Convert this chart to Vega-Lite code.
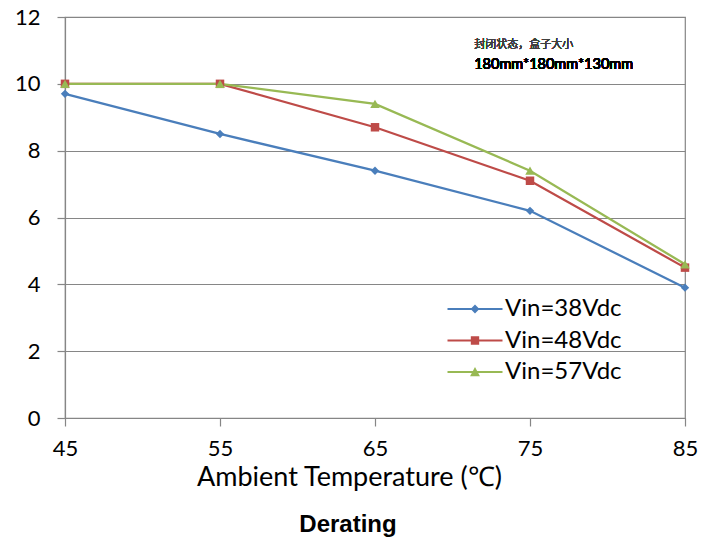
{
  "$schema": "https://vega.github.io/schema/vega-lite/v6.json",
  "width": 620,
  "height": 401,
  "autosize": "none",
  "padding": {"left": 65, "top": 17, "right": 31, "bottom": 126},
  "background": "white",
  "config": {
    "view": {"stroke": "#868686", "strokeWidth": 1.2},
    "font": "Lato"
  },
  "title": {
    "text": "Derating",
    "orient": "bottom",
    "anchor": "middle",
    "dx": -27,
    "offset": 23,
    "font": "Liberation Sans",
    "fontSize": 24,
    "fontWeight": "bold",
    "color": "#000000"
  },
  "data": {
    "values": [
      {"temp": 45, "current": 9.7, "series": "Vin=38Vdc"},
      {"temp": 55, "current": 8.5, "series": "Vin=38Vdc"},
      {"temp": 65, "current": 7.4, "series": "Vin=38Vdc"},
      {"temp": 75, "current": 6.2, "series": "Vin=38Vdc"},
      {"temp": 85, "current": 3.9, "series": "Vin=38Vdc"},
      {"temp": 45, "current": 10.0, "series": "Vin=48Vdc"},
      {"temp": 55, "current": 10.0, "series": "Vin=48Vdc"},
      {"temp": 65, "current": 8.7, "series": "Vin=48Vdc"},
      {"temp": 75, "current": 7.1, "series": "Vin=48Vdc"},
      {"temp": 85, "current": 4.5, "series": "Vin=48Vdc"},
      {"temp": 45, "current": 10.0, "series": "Vin=57Vdc"},
      {"temp": 55, "current": 10.0, "series": "Vin=57Vdc"},
      {"temp": 65, "current": 9.4, "series": "Vin=57Vdc"},
      {"temp": 75, "current": 7.4, "series": "Vin=57Vdc"},
      {"temp": 85, "current": 4.6, "series": "Vin=57Vdc"}
    ]
  },
  "encoding": {
    "x": {
      "field": "temp",
      "type": "quantitative",
      "scale": {"domain": [45, 85], "nice": false, "zero": false},
      "axis": {
        "values": [45, 55, 65, 75, 85],
        "grid": false,
        "domainColor": "#868686",
        "domainWidth": 1.2,
        "tickColor": "#868686",
        "tickWidth": 1.2,
        "tickSize": 8,
        "labelPadding": 12,
        "labelFontSize": 22,
        "labelColor": "#000000",
        "labelFont": "Lato",
        "labelFlush": false,
        "title": "Ambient Temperature (℃)",
        "titleFont": "Lato",
        "titleFontSize": 27,
        "titleFontWeight": "normal",
        "titleColor": "#000000",
        "titleX": 284,
        "titleY": 67,
        "titleBaseline": "alphabetic"
      }
    },
    "y": {
      "field": "current",
      "type": "quantitative",
      "scale": {"domain": [0, 12], "nice": false},
      "axis": {
        "values": [0, 2, 4, 6, 8, 10, 12],
        "grid": true,
        "gridColor": "#868686",
        "gridWidth": 1.2,
        "domainColor": "#868686",
        "domainWidth": 1.2,
        "tickColor": "#868686",
        "tickWidth": 1.2,
        "tickSize": 8,
        "labelPadding": 17,
        "labelFontSize": 22,
        "labelColor": "#000000",
        "labelFont": "Lato",
        "title": null
      }
    }
  },
  "layer": [
    {
      "mark": {"type": "line", "strokeWidth": 2.25},
      "encoding": {
        "color": {
          "field": "series",
          "type": "nominal",
          "scale": {
            "domain": ["Vin=38Vdc", "Vin=48Vdc", "Vin=57Vdc"],
            "range": ["#4A7EBB", "#BE4B48", "#98B954"]
          },
          "legend": {
            "orient": "none",
            "legendX": 398,
            "legendY": 280,
            "title": null,
            "labelFont": "Lato",
            "labelFontSize": 24,
            "labelColor": "#000000",
            "symbolSize": 484,
            "labelOffset": 18,
            "rowPadding": 7.5,
            "symbolStrokeWidth": 0,
            "encode": {
              "symbols": {
                "update": {
                  "shape": {"signal": "datum.value === 'Vin=38Vdc' ? 'M-2.5,-0.1H2.5V0.1H-2.5ZM0,-0.4L0.4,0L0,0.4L-0.4,0Z' : datum.value === 'Vin=48Vdc' ? 'M-2.5,-0.1H2.5V0.1H-2.5ZM-0.38,-0.38H0.38V0.38H-0.38Z' : 'M-2.5,-0.1H2.5V0.1H-2.5ZM0,-0.45L0.45,0.38H-0.45Z'"},
                  "fill": {"signal": "scale('color', datum.value)"},
                  "fillOpacity": {"value": 1},
                  "strokeWidth": {"value": 0},
                  "opacity": {"value": 1}
                }
              }
            }
          }
        }
      }
    },
    {
      "transform": [{"filter": "datum.series === 'Vin=38Vdc'"}],
      "mark": {"type": "point", "shape": "diamond", "size": 70, "filled": true, "opacity": 1, "color": "#4A7EBB"}
    },
    {
      "transform": [{"filter": "datum.series === 'Vin=48Vdc'"}],
      "mark": {"type": "point", "shape": "square", "size": 72, "filled": true, "opacity": 1, "color": "#BE4B48"}
    },
    {
      "transform": [{"filter": "datum.series === 'Vin=57Vdc'"}],
      "mark": {"type": "point", "shape": "triangle-up", "size": 90, "filled": true, "opacity": 1, "color": "#98B954"}
    },
    {
      "mark": {"type": "text", "align": "left", "baseline": "middle", "font": "Noto Sans CJK SC", "fontSize": 11, "fontWeight": 300},
      "encoding": {
        "x": {"datum": 71.4},
        "y": {"datum": 11.15},
        "text": {"value": "封闭状态，盒子大小"},
        "color": {"value": "#404040"}
      }
    },
    {
      "mark": {"type": "text", "align": "left", "baseline": "middle", "font": "Lato", "fontSize": 14.5, "fontWeight": "normal"},
      "encoding": {
        "x": {"datum": 71.4},
        "y": {"datum": 10.55},
        "text": {"value": "180mm*180mm*130mm"},
        "color": {"value": "#000000"}
      }
    }
  ]
}
